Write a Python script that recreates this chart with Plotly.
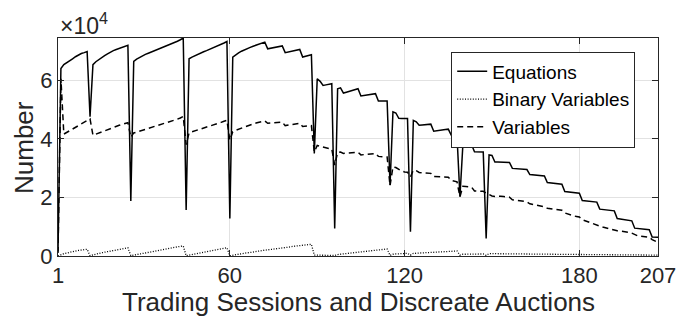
import plotly.graph_objects as go

sessions = list(range(1, 208))

equations = [
    1500, 64000, 65300, 65900, 66500, 67300, 68000, 68700, 69100, 69400,
    69800, 47500, 65300, 66300, 67100, 67800, 68400, 69000, 69600, 70100,
    70500, 70900, 71300, 71600, 71900, 18800, 66400, 67200, 67800, 68400,
    68800, 69200, 69600, 70000, 70400, 70700, 71100, 71500, 71900, 72400,
    72800, 73300, 73800, 74400, 15700, 67300, 67900, 68400, 68900, 69300,
    69700, 70100, 70500, 70900, 71300, 71700, 72200, 72700, 73200, 12800,
    67900, 68700, 69300, 69900, 70400, 70800, 71200, 71600, 72000, 72300,
    72700, 73000, 70700, 70900, 71100, 71300, 71500, 71700, 69400, 69600,
    69800, 70000, 70200, 70500, 67900, 68100, 68400, 68700, 35000, 60500,
    59600, 58200, 58400, 58600, 58800, 9400, 57100, 57400, 55600, 55900,
    56200, 56500, 56800, 57100, 54600, 54800, 55000, 55200, 55300, 55400,
    52900, 52900, 52900, 52900, 24200, 49200, 48800, 47000, 46900, 46900,
    46900, 8300, 46300, 45800, 44600, 44700, 44800, 44900, 45000, 42600,
    42800, 42900, 43000, 43200, 43300, 41300, 41100, 40800, 20200, 37800,
    37900, 37900, 38000, 35600, 35500, 35500, 35500, 6000, 34500, 34300,
    32100, 32100, 32100, 32000, 32000, 31900, 29900, 29800, 29700, 29700,
    29600, 29500, 27800, 27700, 27600, 27500, 27400, 27300, 25100, 25000,
    24900, 24800, 24700, 24500, 22000, 21900, 21800, 21600, 21500, 21400,
    18900, 18800, 18700, 18600, 18500, 18400, 16000, 15900, 15800, 15600,
    15500, 15400, 12800, 12600, 12500, 12300, 12200, 12000, 9500, 9400,
    9300, 9200, 9100, 9000, 6500, 6400, 6400,
]

binary_variables = [
    0, 500, 800, 1000, 1300, 1500, 1700, 1900, 2100, 2200,
    2300, 100, 400, 700, 900, 1100, 1300, 1500, 1700, 1900,
    2100, 2300, 2500, 2700, 2800, 100, 300, 500, 700, 900,
    1100, 1300, 1400, 1600, 1800, 2000, 2200, 2400, 2600, 2800,
    2900, 3100, 3300, 3400, 100, 300, 500, 700, 900, 1100,
    1300, 1500, 1700, 1900, 2100, 2300, 2500, 2700, 2800, 100,
    300, 500, 600, 800, 900, 1100, 1200, 1400, 1500, 1700,
    1800, 2000, 2100, 2200, 2400, 2500, 2600, 2800, 2900, 3000,
    3200, 3300, 3400, 3500, 3600, 3700, 3900, 4000, 300, 300,
    300, 300, 300, 300, 300, 200, 500, 600, 700, 800,
    900, 1000, 1200, 1300, 1400, 1500, 1700, 1800, 1900, 2000,
    2100, 2200, 2300, 2400, 200, 600, 700, 800, 800, 900,
    900, 300, 900, 950, 1000, 1050, 1100, 1150, 1200, 1250,
    1300, 1350, 1400, 1450, 1500, 1550, 1600, 1700, 300, 600,
    600, 650, 650, 650, 700, 700, 700, 200, 800, 800,
    800, 780, 780, 760, 760, 740, 740, 720, 720, 700,
    700, 690, 680, 670, 660, 650, 640, 630, 620, 610,
    600, 590, 580, 570, 560, 550, 540, 530, 520, 510,
    500, 490, 480, 470, 460, 450, 440, 430, 420, 410,
    400, 400, 390, 380, 370, 360, 350, 350, 340, 330,
    320, 320, 310, 300, 300, 300, 300,
]

variables = [
    1000, 60500, 41600, 42200, 42800, 43400, 44000, 44600, 45200, 45800,
    46300, 46800, 41200, 41600, 41900, 42300, 42700, 43100, 43500, 43900,
    44200, 44600, 44900, 45200, 45500, 40500, 42000, 42300, 42600, 42900,
    43200, 43500, 43800, 44100, 44400, 44700, 45000, 45300, 45600, 45900,
    46300, 46700, 47100, 47600, 38000, 42000, 42400, 42700, 43000, 43300,
    43700, 44000, 44300, 44700, 45000, 45300, 45600, 46000, 46300, 39500,
    42400, 42900, 43300, 43700, 44100, 44500, 44800, 45100, 45400, 45700,
    46000, 46100, 45300, 45400, 45500, 45600, 45600, 45700, 44500, 44700,
    44900, 45000, 45200, 45300, 44200, 44300, 44400, 44500, 35500, 37700,
    37400, 37100, 36900, 36700, 36500, 31000, 35300, 35500, 35000, 35100,
    35200, 35300, 35400, 35400, 34500, 34600, 34700, 34800, 34900, 35000,
    34000, 33900, 33800, 33800, 24000, 30400, 30200, 29500, 29000, 28700,
    28600, 27000, 29300, 29100, 28500, 28400, 28300, 28200, 28200, 27100,
    27100, 27000, 27000, 27000, 26900, 25800, 25500, 25300, 20200, 23800,
    23700, 23600, 23500, 22200, 22200, 22100, 22100, 21500, 21000, 20500,
    20300, 20400, 20400, 20300, 20200, 20100, 19200, 19100, 19000, 18900,
    18700, 18500, 17800, 17600, 17400, 17200, 17000, 16800, 16300, 16200,
    16000, 15900, 15800, 15600, 14700, 14300, 14000, 13700, 13500, 13300,
    12400, 12000, 11600, 11200, 10900, 10600, 10200, 9900, 9600, 9400,
    9100, 8900, 8600, 8500, 8400, 8300, 8100, 7800, 7200, 6900,
    6800, 6600, 6500, 6400, 5600, 5000, 4600,
]

x_tick_vals = [1, 60, 120, 180, 207]
y_tick_vals = [0, 20000, 40000, 60000]
y_tick_text = ["0", "2", "4", "6"]

FONT = "Liberation Sans, Arial, Helvetica, sans-serif"
TXT = "#262626"

fig = go.Figure()
fig.add_trace(go.Scatter(x=sessions, y=equations, mode="lines", name="Equations",
                         line=dict(color="black", width=1.5)))
fig.add_trace(go.Scatter(x=sessions, y=binary_variables, mode="lines", name="Binary Variables",
                         line=dict(color="black", width=1.3, dash="1px,1.6px")))
fig.add_trace(go.Scatter(x=sessions, y=variables, mode="lines", name="Variables",
                         line=dict(color="black", width=1.5, dash="6px,4px")))

# The page body has an 8px default margin, so the figure is sized 8px smaller
# and the left/top margins are reduced by the same amount.
fig.update_layout(
    width=689, height=315,
    margin=dict(l=50, r=39, t=30, b=67, autoexpand=False),
    paper_bgcolor="white", plot_bgcolor="white",
    font=dict(family=FONT, color=TXT, size=22),
    showlegend=True,
    legend=dict(x=0.962, y=0.938, xanchor="right", yanchor="top",
                bgcolor="white", bordercolor=TXT, borderwidth=1,
                font=dict(size=19, color="black"), tracegroupgap=0,
                itemwidth=30),
    xaxis=dict(range=[1, 207], tickvals=x_tick_vals, ticks="inside", ticklen=6,
               tickcolor=TXT, showline=True, linecolor=TXT, linewidth=1, mirror="allticks",
               showgrid=True, gridcolor="#e2e2e2", gridwidth=1, zeroline=False,
               tickfont=dict(size=22, color=TXT), automargin=False),
    yaxis=dict(range=[0, 74400], tickvals=y_tick_vals, ticktext=y_tick_text,
               ticks="inside", ticklen=6, tickcolor=TXT, showline=True, linecolor=TXT,
               linewidth=1, mirror="allticks", showgrid=True, gridcolor="#e2e2e2",
               gridwidth=1, zeroline=False, tickfont=dict(size=22, color=TXT),
               automargin=False),
    annotations=[
        dict(text="×10<sup>4</sup>", xref="paper", yref="paper", x=0.0, y=1.0,
             xanchor="left", yanchor="bottom", showarrow=False, yshift=-3,
             font=dict(size=23, color=TXT)),
        dict(text="Trading Sessions and Discreate Auctions", xref="paper", yref="paper",
             x=0.5, y=-0.211, xanchor="center", yanchor="middle", showarrow=False,
             font=dict(size=26, color=TXT)),
        dict(text="Number", xref="paper", yref="paper", x=-0.0567, y=0.5,
             xanchor="center", yanchor="middle", textangle=-90, showarrow=False,
             font=dict(size=26, color=TXT)),
    ],
)

fig.write_html("out.html")
